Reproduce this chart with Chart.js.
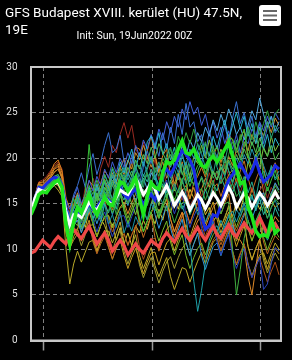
<!DOCTYPE html>
<html><head><meta charset="utf-8">
<script src="https://cdn.jsdelivr.net/npm/chart.js@4.4.0/dist/chart.umd.min.js"></script>
<style>html,body{margin:0;padding:0;background:#000;overflow:hidden}</style>
</head><body>
<canvas id="c" width="292" height="360"></canvas>
<script>
const titleLines = ["GFS Budapest XVIII. kerület (HU) 47.5N,", "19E"];
const subtitleText = "Init: Sun, 19Jun2022 00Z";
const forecastHours = [0,6,12,18,24,30,36,42,48,54,60,66,72,78,84,90,96,102,108,114,120,126,132,138,144,150,156,162,168,174,180,186,192,198,204,210,216,222,228,234,240,246,252,258,264,270,276,282,288,294,300,306,312,318,324,330,336,342,348,354,360,366,372,378,384];
const weekTicks = [20, 188, 356];
const yTicks = [0,5,10,15,20,25,30];

const operational = [13.8,14.8,16.0,16.3,16.2,16.8,17.3,17.6,16.8,12.8,10.6,13.0, 14.6,14.0,15.0,16.0, 14.6,13.8,14.8,15.8, 15.0,14.8,16.0,17.4, 17.2,16.4,17.0,17.9, 15.6,13.8,15.8,17.3, 16.8,16.6,18.4,19.6, 19.4,19.8,21.0,21.9, 20.6,20.4,21.0,20.0, 19.2,19.0,19.8,20.2, 19.6,20.2,21.0,21.7, 20.2,18.8,17.2,17.4, 14.6,13.6,12.0,11.4, 11.6,11.4,13.3,11.8, 12.2];
const ensembleMean = [14.0,15.6,16.6,16.4,16.3,16.8,17.2,17.4,16.6,14.2,12.7,13.8, 13.8,13.5,14.3,15.2, 14.6,14.3,15.0,15.7, 15.2,14.9,15.7,16.5, 16.2,16.0,16.8,17.8, 17.0,16.0,16.6,17.3, 16.6,15.5,16.2,17.0, 16.0,14.8,15.5,16.3, 15.5,14.3,15.1,16.0, 15.4,14.5,15.3,16.2, 15.6,14.8,15.7,16.8, 16.0,14.6,15.4,16.2, 15.6,14.6,15.4,16.2, 15.6,14.8,15.5,16.3, 15.5];
const control = [14.0,15.6,16.8,16.7,17.2,17.6,17.9,17.7,17.0,14.6,12.8,13.6, 14.0,13.6,14.2,15.0, 14.4,14.6,15.2,15.8, 15.4,15.0,15.8,16.8, 16.0,15.6,16.2,16.6, 15.6,15.0,15.6,16.0, 15.4,16.6,18.4,18.8, 18.2,19.0,20.0,20.8, 20.4,19.8,18.8,16.2, 13.6,12.2,12.6,13.8, 13.6,14.8,16.4,17.6, 18.2,18.8,19.4,18.6, 17.8,18.6,19.8,18.4, 17.4,17.8,18.2,19.2, 18.8];
const climate = [9.6,9.8,10.4,11.0, 10.6,10.2,10.9,11.4, 11.0,10.6,11.6,12.2, 11.6,11.2,11.9,12.5, 11.6,10.6,11.2,11.8, 11.0,9.8,10.4,11.0, 10.4,9.4,10.0,10.6, 10.0,9.6,10.3,11.0, 10.6,10.3,11.2,11.8, 11.3,10.8,11.6,12.3, 11.5,11.0,11.7,12.4, 11.6,11.0,11.8,12.5, 11.6,11.2,12.0,12.7, 11.8,11.4,12.2,12.9, 12.3,11.8,12.6,13.5, 12.6,11.7,12.2,12.8, 12.0];

const member01 = [14.2,15.8,17.3,17.4,17.8,18.4,19.4,19.8,18.6,15.0,13.4,14.8, 16.2,14.9,16.0,17.5, 17.0,15.6,17.3,18.6, 18.0,16.9,18.4,19.0, 19.9,18.0,19.5,21.2, 21.0,19.9,20.8,22.5, 20.4,18.5,20.3,21.0, 18.0,16.9,18.0,19.6, 17.4,15.5,17.3,18.0, 19.0,17.9,19.4,20.1, 21.4,19.5,21.0,22.6, 22.0,20.9,22.3,23.0, 20.0,18.9,20.4,21.0, 18.9,17.0,18.7,19.5, 17.6];
const member02 = [13.6,15.2,16.4,16.1,16.4,16.8,17.0,16.5,15.8,10.2,6.2,8.4, 9.8,8.6,9.7,10.8, 11.0,9.7,10.9,12.0, 12.0,10.7,11.8,13.0, 10.8,9.2,10.4,11.6, 9.3,7.9,9.0,10.2, 8.2,7.0,8.1,9.1, 7.0,5.6,6.8,8.0, 7.8,6.4,7.6,8.7, 9.7,8.4,9.6,10.8, 11.2,9.8,11.1,12.3, 9.8,8.3,9.5,10.6, 8.4,7.1,8.3,9.4, 9.6,8.4,9.6,10.7, 10.0];
const member03 = [13.9,15.4,16.6,16.3,16.9,17.0,17.5,17.8,17.0,13.4,11.6,12.8, 14.2,13.1,14.1,15.0, 15.2,14.0,15.1,16.1, 16.6,15.5,16.6,17.6, 18.2,17.0,18.1,19.1, 19.2,18.0,19.1,20.1, 18.1,17.0,18.0,19.0, 16.2,15.0,15.4,14.8, 13.5,10.5,6.5,3.2, 5.5,8.5,11.0,12.2, 12.6,11.5,12.6,13.6, 14.2,13.0,14.1,15.1, 13.2,12.0,13.1,14.0, 12.2,11.0,12.1,13.0, 12.3];
const member04 = [14.1,15.7,17.0,16.8,17.3,17.5,18.0,18.2,17.2,14.6,13.2,15.6, 14.2,13.5,16.2,21.5, 17.2,15.4,16.6,17.6, 15.2,14.0,15.1,16.2, 14.2,12.9,14.0,15.2, 13.3,12.0,13.1,14.2, 14.7,13.4,14.6,15.7, 16.6,15.4,16.5,17.7, 18.2,16.9,18.1,19.2, 19.6,18.4,19.6,20.7, 21.2,19.9,21.1,22.2, 22.1,20.9,22.0,23.2, 20.3,18.9,20.1,21.2, 17.8,16.4,17.6,18.7, 17.0];
const member05 = [14.0,15.6,16.9,16.7,17.2,17.5,17.9,18.0,17.2,14.8,13.8,16.0, 17.0,18.4,16.8,19.0, 20.5,18.2,19.6,21.4, 22.8,20.6,21.0,22.5, 19.6,18.0,20.4,18.6, 17.2,19.0,20.8,19.4, 21.6,20.2,22.8,21.0, 23.4,21.6,24.8,22.6, 26.0,23.4,24.0,21.8, 22.6,20.4,23.0,21.2, 20.0,22.2,23.6,21.8, 24.4,26.2,23.8,25.0, 23.0,24.6,22.2,23.8, 21.6,23.4,24.6,22.8, 23.4];
const member06 = [14.3,15.9,17.4,17.6,18.0,18.6,19.2,19.6,18.8,15.8,14.0,15.0, 15.6,14.2,16.8,15.6, 17.8,16.4,18.9,20.2, 19.0,21.4,20.6,22.6, 23.9,22.2,23.6,21.0, 20.2,21.8,19.6,18.4, 19.8,17.6,18.8,17.0, 16.2,18.2,16.8,15.4, 16.6,14.8,15.6,17.2, 15.8,16.8,18.4,17.0, 18.6,17.2,19.4,18.0, 16.6,17.8,16.2,17.6, 15.4,16.8,15.2,16.4, 17.2,15.6,16.8,15.8, 16.4];
const member07 = [13.8,15.3,16.6,16.4,16.7,17.0,17.4,17.5,16.6,13.2,11.5,12.4, 14.0,12.6,13.4,15.8, 14.2,15.6,13.8,16.4, 15.0,17.2,15.8,16.6, 18.0,16.2,17.4,19.2, 17.6,16.8,18.8,20.2, 18.4,19.6,17.8,20.4, 21.2,19.0,20.6,18.4, 17.2,19.4,18.0,16.6, 18.0,17.0,19.2,18.2, 20.4,18.8,19.6,21.6, 20.2,22.0,19.8,21.2, 23.0,21.4,22.6,20.8, 22.4,24.0,22.2,23.6, 22.8];
const member08 = [14.0,15.5,16.8,16.6,16.9,17.2,17.7,17.8,17.0,14.2,13.0,14.4, 16.0,14.4,15.2,16.8, 15.4,17.2,16.0,18.2, 17.0,18.8,17.4,19.6, 18.4,19.6,21.0,18.8, 20.6,19.2,21.8,22.4, 21.0,22.8,20.4,21.6, 19.8,21.2,19.0,20.6, 18.6,17.4,19.2,20.8, 19.4,21.6,20.2,22.4, 21.0,22.8,24.2,22.0, 23.6,25.0,23.2,24.6, 22.4,23.8,21.6,23.4, 21.0,22.6,20.6,22.2, 21.4];
const member09 = [13.7,15.1,16.3,16.1,16.5,16.8,17.2,17.1,16.2,12.2,10.0,11.4, 12.2,10.9,12.1,13.2, 11.3,9.9,11.0,12.1, 10.3,8.9,10.1,11.1, 9.3,7.9,9.1,10.1, 8.7,7.3,8.6,9.6, 9.7,8.3,9.6,10.7, 11.2,9.8,11.1,12.2, 12.7,11.3,12.6,13.7, 14.2,12.8,14.1,15.2, 13.3,11.8,13.0,14.1, 11.8,10.3,11.5,12.6, 10.3,8.8,10.1,11.1, 9.3,7.8,9.1,10.1, 9.5];
const member10 = [14.0,15.5,16.7,16.5,16.8,17.1,17.5,17.6,16.8,14.0,12.6,13.8, 14.7,13.4,14.6,15.6, 15.7,14.4,15.6,16.6, 16.2,14.9,16.1,17.1, 17.2,15.9,17.1,18.1, 16.3,14.9,16.0,17.0, 15.3,13.9,15.1,16.1, 14.3,12.9,14.1,15.1, 15.2,13.9,15.1,16.1, 16.7,15.4,16.6,17.6, 15.3,13.9,15.0,15.2, 10.0,5.0,7.8,11.2, 13.2,11.9,13.1,14.1, 14.7,13.4,14.6,15.6, 15.0];
const member11 = [14.2,15.8,17.2,17.1,17.5,18.0,18.8,19.2,18.0,14.4,12.0,13.0, 13.2,11.9,13.1,14.1, 12.8,11.4,12.6,13.6, 13.7,12.4,13.6,14.6, 15.2,13.9,15.1,16.1, 16.2,14.9,16.1,17.1, 14.8,13.4,14.6,15.6, 13.3,11.9,13.1,14.1, 12.2,10.9,12.1,13.1, 13.7,12.4,13.6,14.6, 15.2,13.9,15.1,16.1, 13.0,11.2,11.0,10.2, 7.0,5.0,8.0,11.0, 12.7,11.4,12.6,13.6, 13.0];
const member12 = [13.9,15.4,16.7,16.5,16.9,17.2,17.6,17.7,16.9,14.4,13.2,14.0, 14.2,12.9,14.1,15.1, 13.3,11.9,13.1,14.1, 12.7,11.4,12.6,13.6, 13.7,12.4,13.6,14.6, 15.2,13.9,15.1,16.1, 16.7,15.4,16.6,17.6, 15.3,13.9,15.1,16.1, 13.8,12.4,13.6,14.6, 12.3,10.9,12.1,13.1, 10.8,9.4,10.6,11.6, 9.3,7.9,9.1,10.1, 8.3,6.9,8.1,9.1, 5.6,6.2,8.5,10.2, 9.8];
const member13 = [13.8,15.4,16.6,16.5,16.8,17.0,17.5,17.5,16.7,13.5,12.0,13.0, 12.6,14.2,13.0,15.4, 14.0,16.0,14.8,15.2, 16.8,15.4,17.4,16.0, 14.6,16.2,15.0,13.8, 15.4,14.2,13.2,15.0, 16.4,14.8,17.0,15.6, 17.6,16.4,18.4,17.2, 19.6,18.0,20.2,19.4, 21.4,20.0,22.0,20.6, 19.4,21.0,19.8,18.6, 17.4,19.0,18.2,17.0, 19.6,18.4,20.4,19.0, 21.2,20.2,22.4,20.8, 21.6];
const member14 = [14.1,15.6,17.0,16.9,17.3,17.8,18.4,18.8,17.8,13.6,11.4,12.2, 12.2,11.0,12.1,13.0, 10.8,9.5,10.6,11.5, 10.2,9.0,10.1,11.0, 11.7,10.5,11.6,12.5, 13.2,12.0,13.1,14.0, 14.7,13.5,14.6,15.5, 13.3,12.0,13.1,14.0, 11.8,10.5,11.6,12.5, 10.3,9.0,10.1,11.0, 11.7,10.5,11.6,12.5, 13.2,12.0,13.1,14.0, 12.3,11.0,12.1,13.0, 10.8,9.5,10.6,11.5, 11.0];
const member15 = [14.0,15.5,16.8,16.6,17.0,17.2,17.6,17.7,16.9,14.8,13.6,14.6, 15.8,14.0,15.2,16.6, 15.0,16.8,15.6,17.6, 16.4,18.2,17.0,17.8, 19.0,17.6,18.6,17.2, 16.0,17.4,18.2,16.6, 15.4,16.8,17.8,16.2, 17.4,18.8,17.6,19.4, 18.2,20.0,19.0,20.8, 21.8,20.4,19.2,20.6, 19.0,17.8,20.2,18.6, 17.2,18.6,16.8,18.0, 16.2,17.4,15.6,17.8, 18.6,17.2,19.2,17.6, 18.2];
const member16 = [13.9,15.5,16.7,16.6,16.9,17.3,17.8,17.7,16.8,13.0,11.8,12.6, 13.2,11.8,13.1,14.3, 14.2,12.8,14.1,15.3, 15.2,13.8,15.1,16.3, 16.2,14.8,16.1,17.3, 15.3,13.8,15.1,16.3, 13.8,12.3,13.6,14.8, 12.3,10.8,12.1,13.3, 10.8,9.3,10.6,11.8, 9.3,7.8,9.1,10.3, 10.7,9.3,10.6,11.8, 12.7,11.3,12.6,13.8, 14.7,13.3,14.6,15.8, 16.2,14.8,16.1,17.3, 16.5];
const member17 = [14.0,15.6,16.9,16.7,17.0,17.3,17.6,17.5,16.6,13.4,12.2,13.4, 14.6,13.0,14.0,15.0, 12.8,13.6,14.8,13.4, 14.2,15.6,13.8,15.8, 16.6,15.0,16.4,17.4, 15.8,17.6,18.4,17.0, 19.0,18.0,20.0,19.2, 21.0,20.0,22.4,21.2, 22.8,21.6,23.2,21.4, 20.6,21.8,19.8,21.4, 19.2,20.6,18.8,20.4, 21.8,20.6,22.6,21.2, 23.4,22.0,24.0,22.6, 23.8,25.2,23.6,24.8, 25.4];
const member18 = [14.3,15.9,17.3,17.3,17.7,18.2,19.0,19.4,18.4,15.6,14.6,15.8, 15.7,14.3,15.6,16.7, 16.7,15.3,16.6,17.7, 15.8,14.3,15.6,16.7, 14.3,12.8,14.1,15.2, 12.8,11.3,12.6,13.7, 11.3,9.8,11.1,12.2, 12.7,11.3,12.6,13.7, 14.2,12.8,14.1,15.2, 15.7,14.3,15.6,16.7, 17.2,15.8,17.1,18.2, 18.7,17.3,18.6,19.7, 17.8,16.3,17.6,18.7, 16.3,14.8,16.1,17.2, 16.5];
const member19 = [13.7,15.2,16.4,16.2,16.6,16.9,17.2,17.0,16.0,11.8,10.2,11.0, 11.7,10.4,11.6,12.6, 12.7,11.4,12.6,13.6, 11.3,9.9,11.1,12.1, 9.8,8.4,9.6,10.6, 8.3,6.9,8.1,9.1, 7.7,6.3,7.6,8.6, 9.2,7.9,9.1,10.1, 10.7,9.4,10.6,11.6, 12.2,10.9,12.1,13.1, 13.7,12.4,13.6,14.6, 12.3,10.9,12.1,13.1, 10.3,8.9,10.1,11.1, 8.8,7.4,8.6,9.6, 8.8];
const member20 = [14.0,15.5,16.7,16.6,16.9,17.1,17.5,17.6,16.8,14.5,13.6,14.6, 15.6,14.2,15.4,14.4, 13.2,14.6,13.4,15.0, 12.8,13.8,12.4,14.2, 11.8,13.0,12.0,13.6, 12.6,14.4,13.2,15.0, 14.2,16.0,15.0,16.6, 15.6,17.2,16.2,17.8, 16.0,14.6,15.4,13.8, 14.6,13.0,14.0,12.6, 11.8,13.2,12.2,13.8, 12.8,14.4,13.6,15.0, 14.2,15.8,14.6,16.0, 14.8,13.4,14.6,15.4, 14.2];
const member21 = [14.0,15.6,16.9,16.8,17.2,17.6,18.0,18.2,17.4,15.4,14.4,15.6, 16.8,15.0,16.0,17.6, 16.4,18.0,17.0,18.8, 17.8,19.6,18.4,20.0, 19.0,20.6,19.4,21.4, 20.2,22.0,21.0,22.6, 21.4,23.2,22.0,24.0, 22.8,24.6,23.4,25.4, 24.2,26.2,24.8,25.6, 23.6,24.8,22.8,24.0, 22.2,23.4,21.6,23.0, 21.0,22.6,20.6,22.2, 21.6,23.2,22.4,24.0, 23.0,24.6,23.4,25.0, 24.2];
const member22 = [14.1,15.6,16.8,16.7,17.0,17.3,17.7,17.8,17.0,14.0,12.8,14.0, 13.6,15.0,13.8,15.6, 14.6,16.2,15.0,16.8, 16.2,17.6,16.4,18.4, 17.4,19.0,18.0,19.8, 18.8,20.4,19.4,21.2, 20.0,21.6,20.6,19.6, 20.4,19.0,20.0,18.2, 19.2,17.8,18.6,17.0, 17.8,16.4,17.4,18.6, 17.6,19.0,18.2,19.8, 18.8,20.4,19.4,21.0, 20.0,21.8,20.6,22.2, 21.0,20.2,21.4,19.8, 20.6];
const member23 = [14.2,15.7,17.1,17.0,17.4,17.8,18.5,18.8,17.8,14.8,13.6,14.8, 15.2,13.8,14.8,16.2, 15.4,17.0,15.8,17.6, 16.8,18.4,17.2,19.0, 18.2,19.8,18.8,20.6, 19.8,21.4,20.2,19.0, 20.2,18.4,19.6,17.8, 18.6,17.2,18.4,16.4, 17.0,15.6,16.8,15.2, 16.6,17.8,16.8,18.6, 17.6,19.4,18.4,20.2, 19.2,21.0,20.0,21.8, 20.8,22.6,21.6,23.4, 22.4,24.0,22.8,24.4, 23.6];
const member24 = [13.9,15.4,16.6,16.5,16.8,17.0,17.4,17.4,16.5,13.0,11.6,12.6, 13.6,12.2,13.0,14.6, 13.4,14.2,13.0,15.0, 14.0,15.6,14.4,16.2, 15.4,17.0,16.0,17.6, 16.6,18.2,17.4,18.8, 17.8,16.4,17.2,15.8, 16.6,15.0,15.8,14.4, 15.2,13.8,14.8,16.0, 15.0,16.6,15.4,17.2, 16.4,18.0,16.8,17.6, 16.2,17.4,15.6,16.8, 15.0,16.0,14.2,15.6, 13.8,14.8,13.0,14.6, 13.6];
const member25 = [14.1,15.7,17.1,17.0,17.4,18.0,18.8,19.0,17.9,13.8,12.4,13.4, 13.7,12.4,13.6,14.6, 14.7,13.4,14.6,15.6, 13.3,11.9,13.1,14.1, 11.8,10.4,11.6,12.6, 10.3,8.9,10.1,11.1, 11.2,9.9,11.1,12.1, 12.7,11.4,12.6,13.6, 14.2,12.9,14.1,15.1, 12.8,11.4,12.6,13.6, 11.3,9.9,11.1,12.1, 9.8,8.4,9.6,10.6, 8.3,6.9,8.1,9.1, 7.7,6.4,7.6,8.6, 7.2];
const member26 = [14.0,15.5,16.8,16.6,16.9,17.2,17.6,17.6,16.8,14.6,13.4,14.6, 15.6,14.2,15.4,17.0, 16.0,17.6,16.4,18.2, 17.2,19.0,18.0,18.8, 17.6,16.4,17.8,16.0, 15.4,16.6,14.8,16.2, 14.6,13.6,15.0,14.2, 15.4,16.8,15.6,17.4, 16.4,18.0,17.0,18.6, 19.6,18.2,19.4,17.8, 18.6,17.2,18.0,16.4, 17.2,15.8,16.4,15.0, 15.6,14.4,15.2,16.4, 15.4,16.8,15.8,17.0, 16.2];
const member27 = [13.9,15.4,16.7,16.6,17.0,17.3,17.8,17.9,17.1,14.6,13.4,14.4, 15.4,13.8,14.8,16.2, 15.2,16.8,15.6,17.4, 16.6,18.0,16.8,17.6, 16.2,15.0,16.4,15.2, 16.6,17.8,16.6,18.4, 17.6,19.2,18.2,20.0, 19.0,20.6,19.6,21.4, 20.2,22.0,21.0,22.8, 21.8,23.4,22.4,24.2, 23.0,24.8,23.6,25.4, 24.2,22.6,23.4,22.0, 23.6,25.2,24.2,26.6, 24.8,23.4,24.6,23.0, 24.0];
const member28 = [13.8,15.3,16.5,16.3,16.6,16.9,17.3,17.2,16.2,12.8,11.0,12.0, 12.2,13.6,12.4,14.2, 13.2,14.8,13.4,12.6, 11.4,12.8,11.0,12.4, 10.6,11.8,10.4,12.6, 11.8,13.2,12.2,13.8, 12.8,14.4,13.2,15.0, 14.0,15.6,14.4,16.0, 15.0,16.6,15.6,14.2, 15.2,13.8,14.6,13.0, 13.8,12.6,13.4,14.8, 13.6,15.2,14.2,16.0, 15.0,16.6,15.4,14.4, 15.2,14.0,15.4,14.6, 15.0];
const member29 = [14.0,15.5,16.8,16.6,16.9,17.2,17.6,17.7,16.9,14.2,13.0,14.0, 14.8,13.4,14.4,15.8, 14.6,16.2,15.2,16.8, 15.8,17.4,16.6,17.8, 16.8,18.4,17.4,19.0, 18.0,19.6,18.4,17.2, 18.2,16.8,17.6,18.8, 17.8,19.4,18.4,20.2, 19.2,21.0,20.0,21.6, 20.4,19.0,19.8,18.4, 17.6,19.0,18.0,19.6, 18.4,20.0,18.8,20.4, 19.4,21.0,19.8,20.6, 19.2,18.0,19.0,17.8, 18.6];
const member30 = [13.8,15.3,16.5,16.4,16.7,17.0,17.4,17.3,16.4,13.0,11.8,12.8, 13.7,12.4,13.6,14.6, 12.8,11.4,12.6,13.6, 13.7,12.4,13.6,14.6, 14.7,13.4,14.6,15.6, 13.3,11.9,13.1,14.1, 12.3,10.9,12.1,13.1, 10.8,9.4,10.6,11.6, 9.3,7.9,9.1,10.1, 10.7,9.4,10.6,11.6, 12.2,10.9,12.1,13.1, 13.7,12.4,13.6,14.6, 12.3,10.9,12.1,13.1, 11.3,9.9,11.1,12.1, 11.3];

// drawing order: first entries end up on top
const members = [member04,member10,member17,member22,member26,member07,member15,member24,member29,member03,member20,member08,member13,member30,member27,member05,member21,member12,member16,member01,member11,member18,member23,member06,member14,member25,member09,member02,member19,member28];
const memberColors = ["#38c038","#40b040","#30a040","#50c050","#3cb050","#2aa878","#20a890","#28b8a0","#2098b0","#1ea0a8","#1890a0","#28b4d0","#7cc040","#78b828","#50a8e0","#3a70d0","#4060d8","#2a44c0","#3096d8","#d9821e","#e08a28","#c87020","#c89030","#9a2a22","#b8641e","#a85018","#c8a020","#b8a828","#a09a30","#d0c030"];

const decorPlugin = {
  id: 'decor',
  afterDraw(chart) {
    const ctx = chart.ctx, a = chart.chartArea;
    ctx.save();
    ctx.strokeStyle = '#c8c8c8';
    ctx.lineWidth = 2;
    ctx.strokeRect(a.left, a.top, a.right - a.left, a.bottom - a.top);
    ctx.fillStyle = '#ffffff';
    ctx.font = '13.5px Roboto';
    ctx.textBaseline = 'alphabetic';
    ctx.textAlign = 'left';
    ctx.fillText(titleLines[0], 5, 17);
    ctx.fillText(titleLines[1], 5, 34);
    ctx.font = '10.5px Roboto';
    ctx.textAlign = 'center';
    ctx.fillText(subtitleText, 134.5, 39);
    ctx.beginPath();
    ctx.roundRect(259, 5, 22, 21, 3);
    ctx.fill();
    ctx.fillStyle = '#666';
    ctx.fillRect(263, 10, 14, 2);
    ctx.fillRect(263, 14.5, 14, 2);
    ctx.fillRect(263, 19, 14, 2);
    ctx.restore();
  }
};

const toPoints = arr => arr.map((v, i) => ({x: forecastHours[i], y: v}));
const datasets = [
  {data: toPoints(operational), borderColor: '#1ee61e', borderWidth: 3.5},
  {data: toPoints(ensembleMean), borderColor: '#ffffff', borderWidth: 3},
  {data: toPoints(climate), borderColor: '#f04848', borderWidth: 3.2},
  {data: toPoints(control), borderColor: '#1a2ae6', borderWidth: 3}
];
members.forEach((m, k) => datasets.push({data: toPoints(m), borderColor: memberColors[k], borderWidth: 1}));
datasets.forEach(d => { d.pointRadius = 0; d.tension = 0; d.fill = false; });

new Chart(document.getElementById('c'), {
  type: 'line',
  data: {datasets},
  options: {
    responsive: false,
    animation: false,
    devicePixelRatio: 1,
    layout: {padding: {left: 0, right: 11, top: 67, bottom: 0}},
    plugins: {legend: {display: false}, tooltip: {enabled: false}, title: {display: false}},
    scales: {
      x: {
        type: 'linear', min: 0, max: 387,
        afterBuildTicks: s => { s.ticks = weekTicks.map(v => ({value: v})); },
        ticks: {display: false},
        grid: {color: '#808080', lineWidth: 1, drawTicks: true, tickLength: 10, tickColor: '#9a9a9a', tickWidth: 1.5},
        border: {display: true, color: '#c8c8c8', width: 2, dash: [4, 3]}
      },
      y: {
        min: 0, max: 30,
        afterBuildTicks: s => { s.ticks = yTicks.map(v => ({value: v})); },
        afterFit: s => { s.width = 31; },
        ticks: {color: '#e0e0e0', font: {family: 'Roboto', size: 10}, padding: 13.5},
        grid: {color: '#808080', lineWidth: 1, drawTicks: false},
        border: {display: true, color: '#c8c8c8', width: 2, dash: [4, 3]}
      }
    }
  },
  plugins: [decorPlugin]
});
</script>
</body></html>
